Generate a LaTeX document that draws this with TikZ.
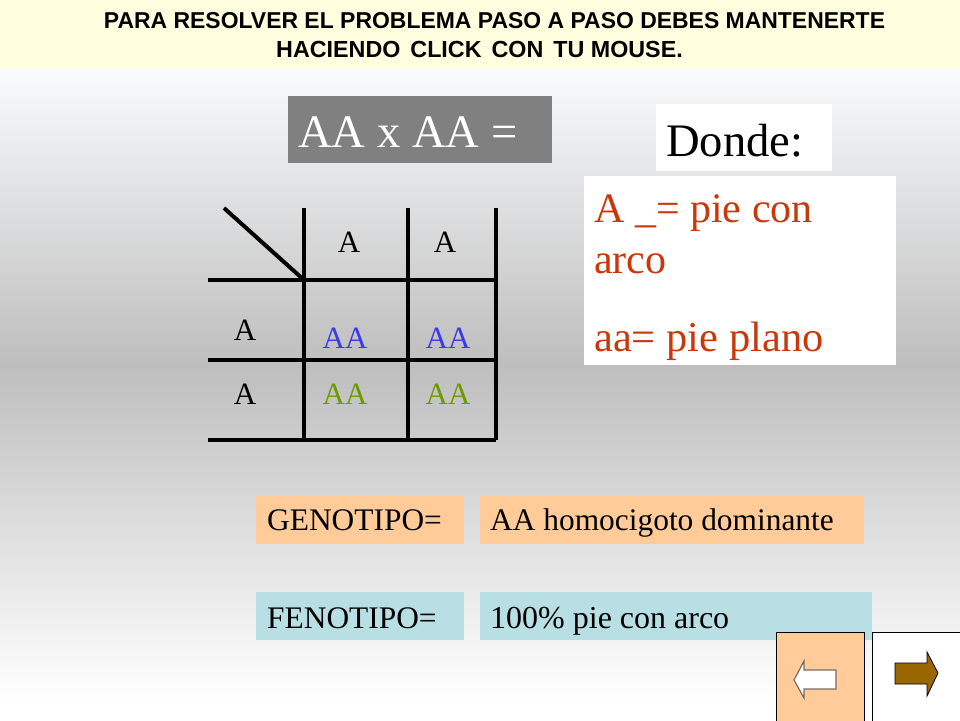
\documentclass[tikz,border=0pt]{standalone}
\usepackage{fontspec}
\setmainfont{Liberation Serif}
\newfontfamily\hd{Liberation Sans}
\definecolor{peach}{HTML}{FFCC99}
\definecolor{pale}{HTML}{B8E0E4}
\definecolor{redt}{HTML}{C8380A}
\definecolor{bluet}{HTML}{3A3AE6}
\definecolor{greent}{HTML}{6E9A00}
\definecolor{cream}{HTML}{FFFFE0}
\definecolor{brownarrow}{HTML}{996600}
\definecolor{grayarrow}{HTML}{7A6A60}
\definecolor{bgtop}{HTML}{FAFBFD}
\definecolor{bgmid}{HTML}{BEBEBE}
\tikzset{
 txt/.style={anchor=base west,inner sep=0pt,text=black},
 gridline/.style={line width=4pt,black},
 lab/.style={font=\fontsize{31}{34}\selectfont,inner sep=0pt,anchor=base},
 big/.style={font=\fontsize{46.6}{50}\selectfont},
 redline/.style={text=redt,font=\fontsize{42}{46}\selectfont},
 bar/.style={font=\fontsize{31.4}{34}\selectfont},
 navbox/.style={draw=black,line width=1pt}
}
\begin{document}
\begin{tikzpicture}[x=1pt,y=-1pt,line cap=butt]
\useasboundingbox (0,0) rectangle (960,720);
\fill[white] (0,0) rectangle (960,720);
\shade[top color=bgtop,bottom color=bgmid] (0,68) rectangle (960,365);
\shade[top color=bgmid,bottom color=white] (0,365) rectangle (960,700);
\fill[cream] (0,0) rectangle (960,68);
\node[font=\hd\bfseries\fontsize{22.95}{29}\selectfont,inner sep=0pt,anchor=base] (t1) at (494.5,28) {PARA RESOLVER EL PROBLEMA PASO A PASO DEBES MANTENERTE};
\node[font=\hd\bfseries\fontsize{23.3}{29}\selectfont,inner sep=0pt,anchor=base] (t2) at (479.5,57) {HACIENDO\hspace{3.5pt} CLICK\hspace{3.5pt} CON\hspace{3.5pt} TU MOUSE.};
\fill[black!50] (288,96) rectangle (552,163);
\node[txt,text=white,big] (eq) at (298,147) {AA x AA =};
\fill[white] (656,104) rectangle (832,171);
\node[txt,big] (donde) at (666,156) {Donde:};
\fill[white] (584,176) rectangle (896,365);
\node[txt,redline] (l1) at (594,222) {A \_= pie con};
\node[txt,redline] (l2) at (594,273) {arco};
\node[txt,redline,font=\fontsize{42.5}{46}\selectfont] (l3) at (594,351) {aa= pie plano};
\coordinate (d1) at (224,208); \coordinate (d2) at (304,280);
\draw[gridline] (d1)--(d2);
\draw[gridline] (304,208)--(304,440);
\draw[gridline] (408,208)--(408,440);
\draw[gridline] (496,208)--(496,440);
\draw[gridline] (208,280)--(496,280);
\draw[gridline] (208,360)--(496,360);
\draw[gridline] (208,440)--(496,440);
\node[lab] (c1) at (349,252) {A};
\node[lab] (c2) at (445,252) {A};
\node[lab] (r1) at (245,340) {A};
\node[lab] (r2) at (245,404) {A};
\node[lab,text=bluet] (a1) at (345,348) {AA};
\node[lab,text=bluet] (a2) at (448,348) {AA};
\node[lab,text=greent] (a3) at (345,404) {AA};
\node[lab,text=greent] (a4) at (448,404) {AA};
\fill[peach] (256,496) rectangle (464,544);
\fill[peach] (480,496) rectangle (864,544);
\fill[pale] (256,592) rectangle (464,640);
\fill[pale] (480,592) rectangle (872,640);
\node[txt,bar] (g1) at (267,530) {GENOTIPO=};
\node[txt,bar] (g2) at (490,530) {AA homocigoto dominante};
\node[txt,bar] (f1) at (267,628) {FENOTIPO=};
\node[txt,bar,font=\fontsize{32}{34}\selectfont] (f2) at (490,628) {100\% pie con arco};
\draw[navbox,fill=peach] (776.5,632.5) rectangle (864.5,721);
\draw[navbox,fill=white] (872.5,632.5) rectangle (961,721);
\draw[grayarrow,fill=white,line width=1.2pt] (794,680)--(804,661)--(804,670)--(836,670)--(836,689)--(804,689)--(804,698)--cycle;
\draw[black,fill=brownarrow,line width=0.8pt] (938,673)--(927,652)--(927,663)--(895,663)--(895,684)--(927,684)--(927,696)--cycle;
\end{tikzpicture}
\end{document}
